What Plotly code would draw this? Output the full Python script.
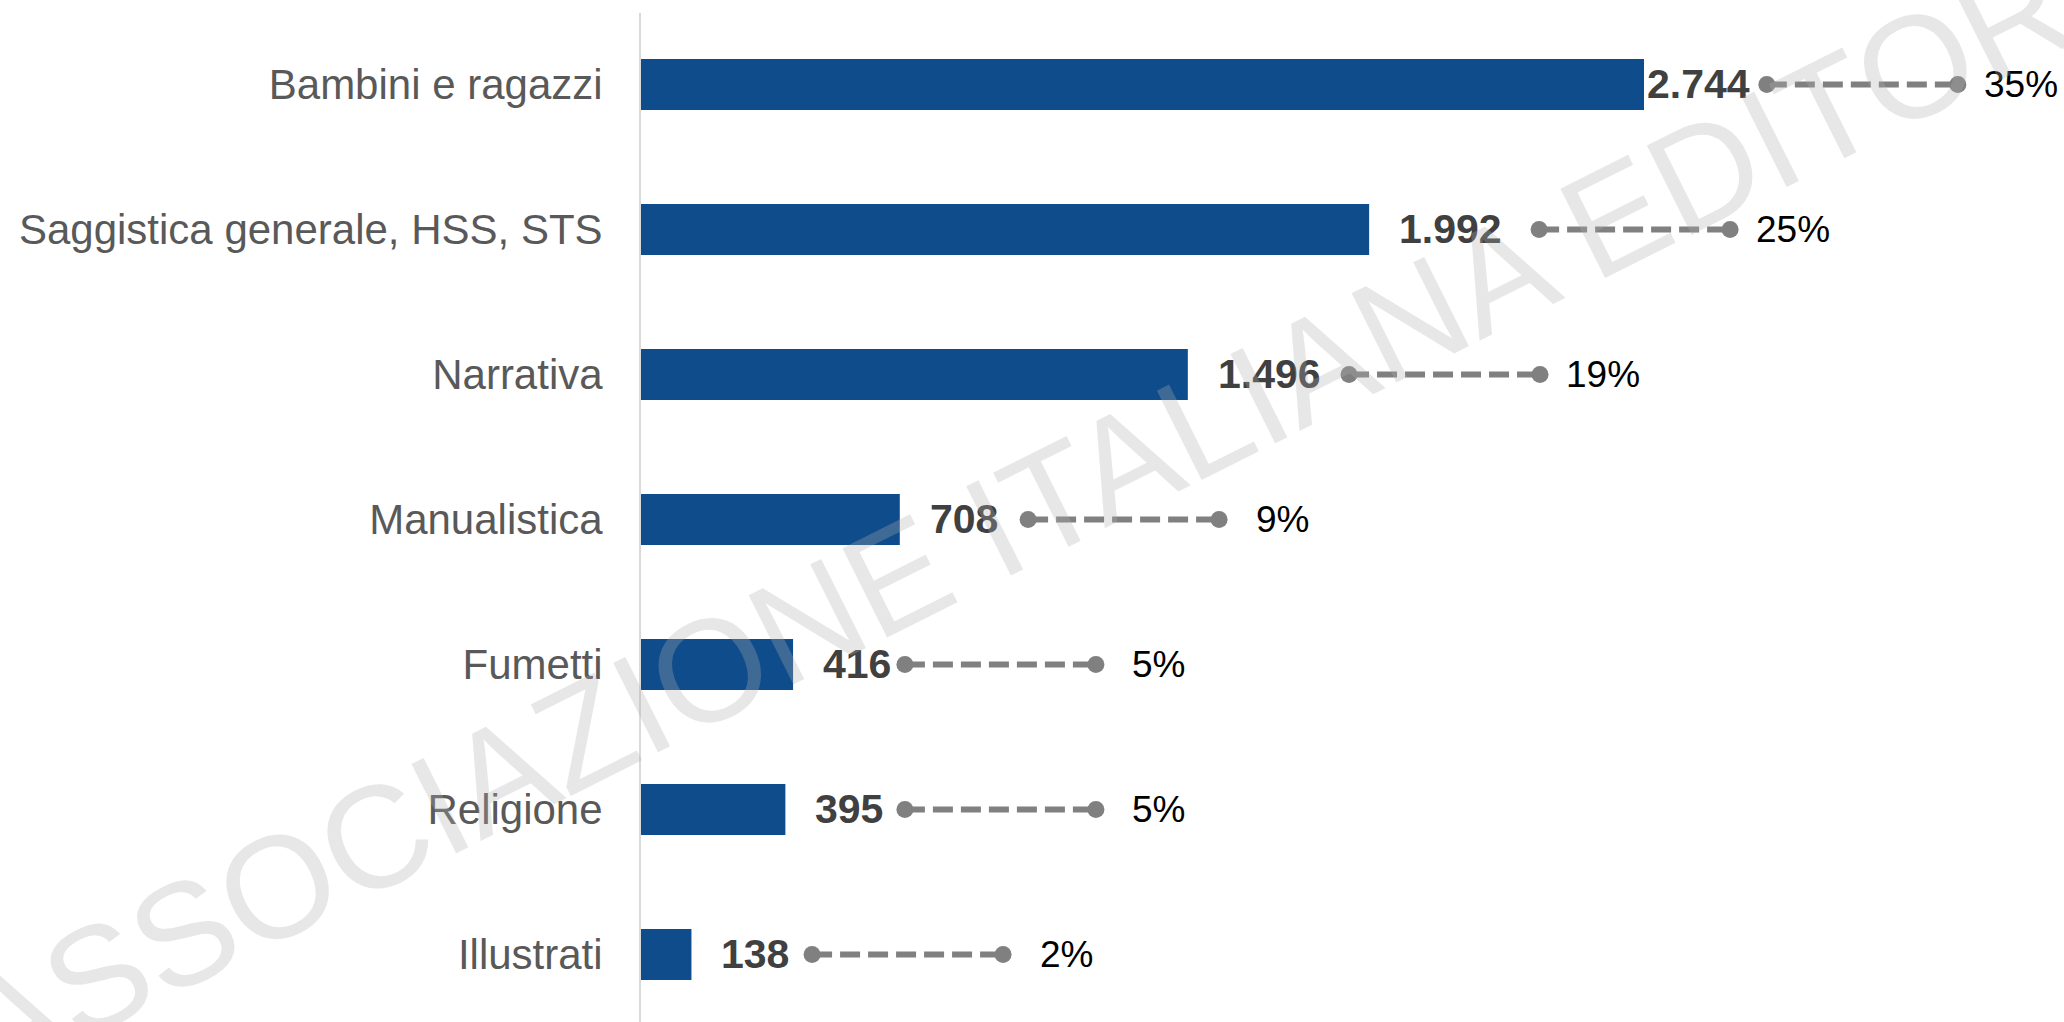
import plotly.graph_objects as go

# ---- data ----
categories = ["Bambini e ragazzi", "Saggistica generale, HSS, STS", "Narrativa",
              "Manualistica", "Fumetti", "Religione", "Illustrati"]
titles = [2744, 1992, 1496, 708, 416, 395, 138]
share_pct = [35, 25, 19, 9, 5, 5, 2]
# start of the share connector, in the same units as the bar axis
connector_start = [3080, 2457, 1937, 1059, 722, 722, 468]
watermark = "ASSOCIAZIONE ITALIANA EDITORI"

# ---- layout / style constants ----
W, H = 2064, 1022
L, T = 641, 13
XMAX = 3893
plot_w = W - L
plot_h = H - T
units_per_px = XMAX / plot_w
conn_len = 191 * units_per_px
label_gap_px = [1, 28, 28, 28, 28, 28, 28]
FONT = "Arial, 'Liberation Sans', sans-serif"
BAR = "#0F4C8B"
GREY = "#808080"

fig = go.Figure()
fig.add_bar(y=categories, x=titles, orientation="h", width=0.352,
            marker=dict(color=BAR, line_width=0), hoverinfo="skip")

for cat, s in zip(categories, connector_start):
    fig.add_scatter(x=[s, s + conn_len], y=[cat, cat], mode="lines+markers",
                    line=dict(color=GREY, width=6, dash="20px,8px"),
                    marker=dict(size=17, color=GREY), hoverinfo="skip")

for cat, v, g in zip(categories, titles, label_gap_px):
    fig.add_annotation(x=v, y=cat, text=f"{v:,}".replace(",", "."),
                       xanchor="left", yanchor="middle", xshift=g, showarrow=False,
                       font=dict(family=FONT, size=41, color="#404040", weight="bold"))

for cat, s, p in zip(categories, connector_start, share_pct):
    fig.add_annotation(x=s + conn_len, y=cat, text=f"{p}%",
                       xanchor="center", yanchor="middle", xshift=63, showarrow=False,
                       font=dict(family=FONT, size=37, color="#000000"))

# watermark, centre of text box in pixels -> paper coords
wm_cx, wm_cy = 1032, 509
fig.add_annotation(xref="paper", yref="paper",
                   x=(wm_cx - L) / plot_w, y=(H - wm_cy) / plot_h,
                   text=watermark, textangle=-26.6, showarrow=False,
                   xanchor="center", yanchor="middle",
                   font=dict(family=FONT, size=145, color="rgba(175,175,175,0.3)"))

fig.update_layout(width=W, height=H, margin=dict(l=L, r=0, t=T, b=0, pad=0),
                  paper_bgcolor="white", plot_bgcolor="white", showlegend=False)
fig.update_xaxes(range=[0, XMAX], visible=False, fixedrange=True)
fig.update_yaxes(type="category", range=[6.466, -0.493], showline=True,
                 linecolor="#D9D9D9", linewidth=2, showgrid=False, zeroline=False,
                 ticks="", ticklabelstandoff=28, fixedrange=True,
                 tickfont=dict(family=FONT, size=42, color="#595959"))

fig.write_html("out.html", config={"displayModeBar": False})
